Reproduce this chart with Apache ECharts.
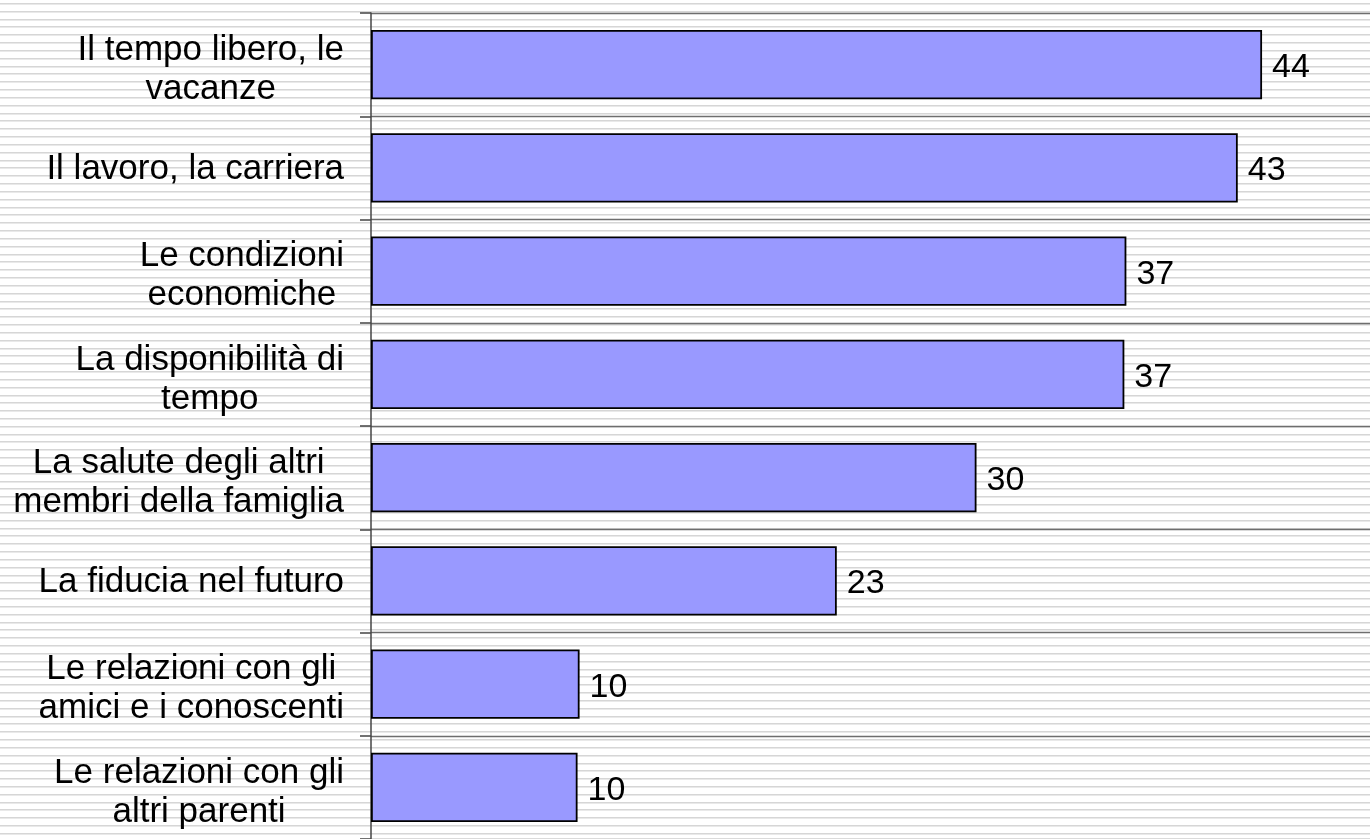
<!DOCTYPE html>
<html>
<head>
<meta charset="utf-8">
<script src="https://cdn.jsdelivr.net/npm/echarts@6/dist/echarts.min.js"></script>
<style>
  html, body { margin: 0; padding: 0; }
  body {
    width: 1370px; height: 839px; overflow: hidden;
    background: repeating-linear-gradient(to bottom,
      #ffffff 0px, #ffffff 3px,
      #d6d6d6 3px, #d6d6d6 4px,
      #e9e9e9 4px, #e9e9e9 5px,
      #ffffff 5px, #ffffff 7.83px);
  }
  #chart { width: 1370px; height: 839px; }
</style>
</head>
<body>
<div id="chart"></div>
<script>
// Categories (top to bottom)
var categories = [
  'Il tempo libero, le\nvacanze',
  'Il lavoro, la carriera',
  'Le condizioni\neconomiche',
  'La disponibilità di\ntempo',
  'La salute degli altri\nmembri della famiglia',
  'La fiducia nel futuro',
  'Le relazioni con gli\namici e i conoscenti',
  'Le relazioni con gli\naltri parenti'
];
// Values
var values = [44.0, 42.8, 37.3, 37.2, 29.9, 23.0, 10.3, 10.2];
// Labels printed at the bar ends
var valueLabels = ['44', '43', '37', '37', '30', '23', '10', '10'];

var chart = echarts.init(document.getElementById('chart'), null, { renderer: 'canvas' });
var font = '"Liberation Sans", Arial, Helvetica, sans-serif';

chart.setOption({
  backgroundColor: 'transparent',
  animation: false,
  grid: { left: 371, top: 13, right: 0, height: 832, containLabel: false },
  xAxis: {
    type: 'value',
    min: 0, max: 49.33,
    show: false,
    splitLine: { show: false }
  },
  yAxis: {
    type: 'category',
    inverse: true,
    data: categories,
    boundaryGap: true,
    axisLine: { show: true, lineStyle: { color: '#444', width: 1.5 } },
    axisTick: { show: true, length: 11, alignWithLabel: false, lineStyle: { color: '#444', width: 1.5 } },
    splitLine: { show: true, lineStyle: { color: '#6e6e6e', width: 1.3 } },
    axisLabel: {
      margin: 27,
      align: 'right',
      fontFamily: font,
      fontSize: 35,
      color: '#000',
      lineHeight: 39,
      formatter: function (v) {
        var lines = v.split('\n');
        if (lines.length === 1) return '{s|' + v + '}';
        return lines.map(function (s) { return '{c|' + s + '}'; }).join('\n');
      },
      rich: {
        c: { align: 'center', fontFamily: font, fontSize: 35, color: '#000', lineHeight: 39, padding: [10, 0, 0, 0] },
        s: { fontFamily: font, fontSize: 35, color: '#000', lineHeight: 39, padding: [3, 0, 0, 0] }
      }
    }
  },
  series: [{
    type: 'bar',
    data: values,
    barCategoryGap: '33%',
    itemStyle: { color: '#9999ff', borderColor: '#000', borderWidth: 1.8 },
    label: {
      show: true,
      position: 'right',
      distance: 10,
      offset: [0, 3],
      fontFamily: font,
      fontSize: 34,
      color: '#000',
      formatter: function (p) { return valueLabels[p.dataIndex]; }
    }
  }]
});
</script>
</body>
</html>
